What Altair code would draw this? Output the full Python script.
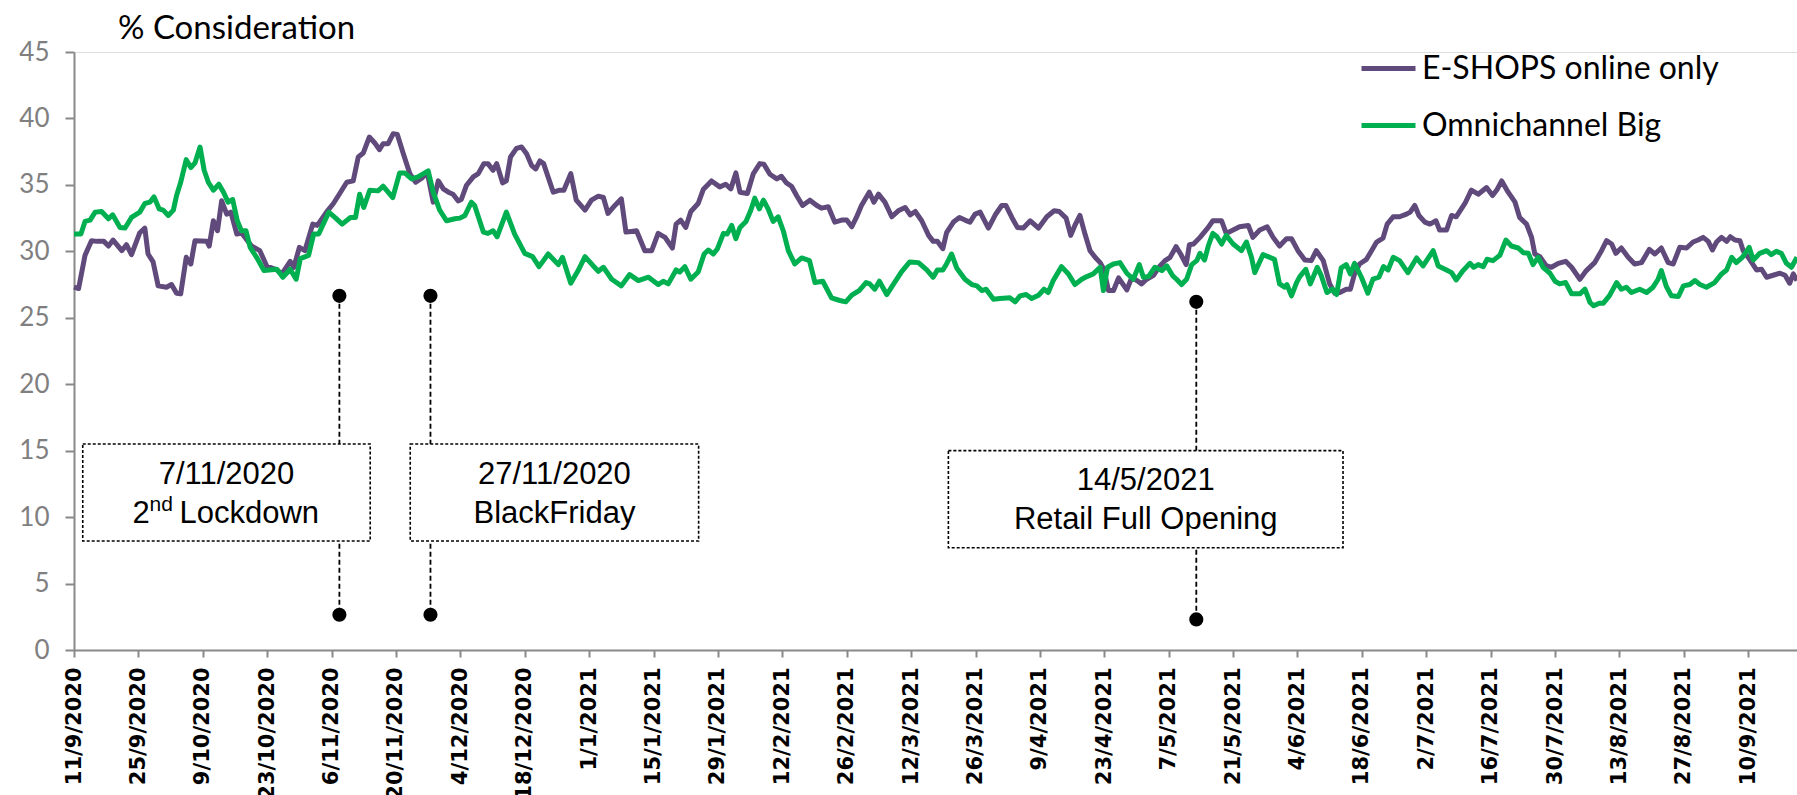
import altair as alt
import pandas as pd

# ---------------- data (day = days since 11/9/2020) ----------------
eshop_day = [0, 1, 2.4, 3.8, 5, 6.5, 7.5, 8.5, 10.4, 11.4, 12.5, 14.3, 15.4, 16.1, 17.2, 18.3, 20.1, 21.2, 22.3, 23.2,
             24.4, 25.4, 26.3, 28.9, 29.4, 30.3, 31.2, 32.1, 33.2, 34.1, 35.4, 36.4, 38.6, 40.4, 41.9, 44.1, 45.2, 47,
             47.8, 49, 50.2, 51.9, 52.9, 54.9, 56.4, 57.5, 59.3, 60.7, 61.8, 62.9, 64.2, 65.4, 66.4, 67.2, 68.3, 69.4,
             70.3, 71.6, 73, 74.3, 75.6, 76.8, 78.1, 79.2, 80.3, 81.4, 82.4, 83.5, 84.2, 85.3, 86.8, 87.9, 89.1, 90,
             91.1, 91.9, 93.2, 94, 94.9, 96.2, 97.3, 98.4, 99.5, 100.4, 101.3, 102.1, 104.2, 105.6, 106.5, 108, 109.2,
             111.1, 112.5, 114, 115.1, 116.1, 117.6, 119, 120, 121.2, 122.3, 124.1, 125.6, 127, 128.5, 130.1, 130.9,
             131.9, 133, 134.1, 135.7, 136.8, 138.6, 140.4, 141.7, 142.8, 143.9, 144.8, 146.4, 147.7, 149.1, 150,
             151.3, 152.8, 153.8, 154.9, 156, 157.1, 158.4, 160, 161.5, 162.5, 164, 165.4, 166.9, 168, 169.1, 170.1,
             171.2, 172.9, 173.9, 174.9, 176.3, 177.8, 179.2, 180.7, 181.8, 182.9, 184.3, 185.8, 186.8, 187.7, 188.9,
             189.7, 191.2, 192.5, 193.7, 194.8, 195.9, 197, 198.8, 200.3, 201.7, 202.6, 203.9, 205.1, 206.4, 207.9,
             209.7, 211.5, 213.1, 214.2, 215.7, 216.7, 217.6, 218.7, 219.8, 220.9, 222, 223.1, 223.9, 224.9, 226,
             227.1, 228, 228.9, 230, 231.1, 232.1, 233.2, 234.7, 236.1, 237.2, 238.3, 239.6, 240.6, 241.8, 242.5,
             243.4, 244.8, 246.6, 247.6, 249.5, 250.5, 252, 253.4, 255.3, 256.3, 257.8, 259.4, 260.7, 262.1, 263.6,
             264.7, 266.1, 267.6, 269, 270.1, 271.6, 273, 274.1, 275.2, 276.6, 277.5, 278.4, 279.5, 281, 282.1, 283.2,
             284.6, 285.5, 286.8, 288.2, 289.7, 290.5, 291.5, 292.4, 293.7, 294.8, 296.1, 296.9, 298.4, 299.5, 300.5,
             302.4, 303.8, 305.3, 307.1, 308.4, 309.4, 310.4, 311.8, 313.3, 314.3, 315.8, 316.9, 317.6, 318.7, 320,
             321.2, 322.7, 324.3, 325.6, 327.4, 328.8, 330.6, 332.1, 333.2, 334.3, 335.2, 336.4, 337.9, 339.3, 340.8,
             342.5, 343.7, 345.1, 346.6, 347.7, 349.1, 350.6, 352, 353.1, 354.2, 355.3, 356.2, 357.1, 358.2, 359.3,
             360.1, 361.1, 362.2, 362.9, 364.3, 365.8, 366.9, 368, 369.4, 370.9, 372, 373, 373.8, 374.6]
eshop_val = [27.3, 27.2, 29.7, 30.8, 30.75, 30.75, 30.4, 30.85, 30.05, 30.5, 29.75, 31.4, 31.75, 29.8, 29.2, 27.4, 27.3,
             27.5, 26.85, 26.8, 29.55, 29.05, 30.8, 30.75, 30.4, 32.3, 31.55, 33.8, 32.8, 32.95, 31.3, 31.4, 30.4, 30.05,
             28.9, 28.6, 28.3, 29.25, 28.8, 30.3, 30.05, 32.05, 31.95, 32.95, 33.6, 34.2, 35.2, 35.3, 37.1, 37.4, 38.6,
             38.15, 37.65, 38.1, 38.1, 38.85, 38.8, 37.35, 35.85, 35.2, 35.5, 35.95, 33.7, 35.3, 34.7, 34.45, 34.3,
             33.8, 33.9, 34.95, 35.6, 35.85, 36.6, 36.6, 36.1, 36.6, 35.15, 35.3, 37.1, 37.75, 37.85, 37.35, 36.45,
             36.2, 36.8, 36.6, 34.45, 34.6, 34.6, 35.85, 33.85, 33.1, 33.85, 34.15, 34.05, 32.85, 33.45, 33.95, 31.45,
             31.5, 31.55, 30.05, 30.05, 31.35, 31.05, 30.25, 32.05, 32.35, 31.8, 33.0, 33.6, 34.65, 35.3, 34.85, 35.05,
             34.7, 35.9, 34.45, 34.35, 35.85, 36.6, 36.55, 35.8, 35.45, 35.65, 35.15, 34.9, 34.2, 33.45, 33.85, 33.45,
             33.25, 33.35, 32.2, 32.35, 32.35, 31.85, 32.55, 33.45, 34.45, 33.7, 34.3, 33.7, 32.6, 33.05, 33.3, 32.75,
             33.0, 32.3, 31.2, 30.75, 30.75, 30.2, 31.4, 32.2, 32.55, 32.35, 32.2, 32.8, 32.95, 31.75, 32.75, 33.45,
             33.45, 32.55, 31.8, 31.75, 32.3, 31.75, 32.6, 33.05, 33.0, 32.5, 31.2, 31.95, 32.7, 31.3, 30.05, 29.55,
             29.15, 28.65, 27.05, 27.05, 28.0, 27.55, 27.1, 28.05, 27.8, 27.55, 27.9, 28.2, 28.9, 29.3, 29.55, 30.35,
             29.8, 29.0, 30.5, 30.55, 31.05, 31.8, 32.3, 32.3, 31.35, 31.6, 31.85, 31.95, 31.05, 31.6, 31.85, 31.05,
             30.4, 30.95, 30.95, 30.05, 29.35, 29.3, 30.05, 29.3, 27.55, 26.85, 26.9, 27.15, 27.15, 28.3, 29.05, 29.4,
             30.05, 30.7, 31.0, 32.05, 32.6, 32.6, 32.8, 32.95, 33.45, 32.7, 32.2, 32.05, 32.3, 31.6, 31.6, 32.7, 32.6,
             33.6, 34.6, 34.3, 34.8, 34.2, 34.65, 35.3, 34.45, 33.7, 32.55, 32.05, 31.05, 29.8, 29.6, 28.95, 28.8,
             29.1, 29.25, 28.8, 27.9, 28.55, 29.15, 30.05, 30.8, 30.55, 29.85, 30.25, 29.55, 29.05, 29.15, 30.15, 29.8,
             30.25, 29.15, 29.05, 30.3, 30.25, 30.7, 30.85, 31.05, 30.75, 30.1, 30.7, 31.05, 30.75, 31.1, 30.85, 30.8,
             30.05, 29.4, 28.6, 28.65, 28.05, 28.2, 28.35, 28.2, 27.6, 28.3, 27.8]

omni_day = [0, 1.5, 2.4, 3.5, 4.6, 6, 7.5, 8.4, 10, 11.1, 12.5, 14.3, 15.4, 16.5, 17.4, 18.5, 19.4, 20.5, 21.6, 22.3,
            23.2, 24.4, 25.4, 26.3, 27.4, 28.3, 29.2, 30.3, 31.5, 32.5, 33.5, 34.5, 35.5, 36.4, 37.4, 38.3, 39.7, 41.3,
            44.1, 45.4, 47, 48.3, 49.2, 51, 52.1, 53.2, 55.4, 56.9, 58.3, 60.1, 61.2, 62.1, 63, 64.3, 66.1, 67.2, 69.3,
            70.8, 71.9, 73.4, 74.8, 77, 78.1, 79.5, 81, 82.8, 83.9, 85, 86.4, 87.1, 89, 90, 91.1, 92, 94, 95.8, 98,
            99.7, 101.1, 103.1, 105.3, 106.2, 108, 109.6, 111.1, 112.9, 114, 115.1, 116.9, 119, 120.8, 122.7, 124.9,
            127, 128.1, 129.2, 130.9, 131.7, 132.8, 134.1, 135.7, 137, 137.9, 139, 139.9, 141.2, 142, 143, 143.9,
            144.8, 146.1, 147.1, 148, 149, 149.9, 150.9, 152, 153.1, 154.2, 155.3, 156.7, 158.2, 159.9, 161.1, 162.8,
            164.7, 166.5, 167.8, 169.1, 170.7, 172.2, 173, 174.1, 175.1, 176.7, 178.1, 179.9, 181.7, 183.6, 185.4,
            186.8, 187.7, 188.9, 189.7, 190.8, 191.9, 193.7, 195.2, 196.3, 197.4, 198.3, 199.9, 201.3, 203.5, 204.6,
            205.7, 207, 208.2, 209.7, 210.9, 211.8, 212.9, 214.7, 216.2, 217.6, 219.1, 220.2, 221.6, 223.1, 223.8,
            224.7, 226, 227.4, 228.9, 230.3, 231.6, 232.5, 233.6, 235, 236.5, 237.6, 238.9, 239.7, 240.8, 241.9, 243,
            244.1, 244.8, 245.8, 246.6, 247.6, 248.5, 249.5, 250.5, 252, 253.8, 254.9, 256, 256.7, 258.5, 259.6, 261,
            262.1, 263.2, 263.7, 264.7, 265.8, 266.5, 267.8, 268.8, 270.3, 271.2, 272.4, 273.6, 274.5, 275.5, 276.6,
            277.5, 278.4, 279.9, 281.3, 282.4, 283.7, 284.7, 285.7, 286.8, 288.2, 290, 291.9, 293.3, 295.5, 296.6,
            298.4, 299.5, 300.5, 302, 303.5, 304.3, 305.3, 306.4, 307.2, 308.5, 310, 311.3, 312.5, 314, 315.1, 316.2,
            317.2, 318.3, 319.4, 320.9, 322, 323, 324.3, 325.6, 327.4, 328.5, 329.6, 330.4, 331.6, 332.5, 333.8,
            335.4, 336.4, 337.5, 338.6, 340.4, 341.9, 343.3, 344.4, 345.1, 346.2, 347.3, 348.8, 349.9, 351.3, 352.4,
            353.5, 354.9, 356.7, 358.2, 359.3, 360.4, 361.4, 362.7, 364.2, 365.1, 366.5, 368, 369, 370.1, 371.2,
            372.3, 373.4, 374.6]
omni_val = [31.3, 31.3, 32.25, 32.35, 32.95, 33.0, 32.45, 32.75, 31.8, 31.75, 32.55, 32.95, 33.6, 33.7, 34.1, 33.2,
            33.1, 32.7, 33.1, 34.2, 35.2, 36.9, 36.3, 36.65, 37.85, 36.1, 35.2, 34.6, 35.05, 34.45, 33.7, 33.9, 32.3,
            31.55, 31.55, 30.3, 29.55, 28.55, 28.65, 28.05, 28.65, 27.9, 29.45, 29.7, 31.3, 31.3, 32.95, 32.5, 32.05,
            32.55, 32.55, 34.3, 33.3, 34.6, 34.55, 34.9, 34.05, 35.9, 35.9, 35.45, 35.6, 36.05, 34.45, 33.1, 32.3,
            32.45, 32.5, 32.7, 33.7, 33.45, 31.45, 31.35, 31.55, 31.1, 32.95, 31.3, 29.85, 29.6, 28.85, 29.8, 29.0,
            29.55, 27.6, 28.55, 29.6, 28.9, 28.5, 28.8, 27.9, 27.4, 28.25, 27.8, 28.05, 27.5, 27.75, 27.55, 28.6,
            28.45, 28.85, 27.9, 28.45, 29.8, 30.1, 29.8, 30.2, 31.35, 31.3, 31.95, 30.95, 31.8, 32.25, 33.05, 34.0,
            33.2, 33.85, 33.2, 32.25, 32.6, 31.55, 30.05, 29.05, 29.5, 29.3, 27.65, 27.75, 26.5, 26.3, 26.2, 26.7,
            27.05, 27.65, 27.55, 27.15, 27.75, 26.75, 27.5, 28.45, 29.2, 29.15, 28.6, 28.05, 28.6, 28.6, 29.05, 29.8,
            28.75, 27.9, 27.5, 27.4, 27.05, 27.15, 26.4, 26.45, 26.5, 26.2, 26.65, 26.75, 26.45, 26.7, 27.15, 26.9,
            27.8, 28.85, 28.3, 27.5, 27.9, 28.1, 28.3, 28.8, 27.05, 28.8, 29.05, 29.15, 28.35, 27.9, 29.0, 28.05,
            28.1, 28.8, 28.55, 28.9, 28.15, 27.9, 27.5, 27.9, 29.0, 29.3, 29.85, 29.35, 30.4, 31.35, 31.1, 30.55,
            31.2, 30.55, 30.05, 30.7, 29.55, 28.4, 29.75, 29.6, 29.4, 27.55, 27.3, 27.5, 26.65, 27.65, 28.1, 28.65,
            27.55, 28.8, 28.15, 26.9, 27.15, 26.75, 28.75, 29.0, 28.3, 29.1, 28.05, 26.85, 27.9, 28.05, 28.85, 28.6,
            29.55, 29.3, 28.4, 29.5, 28.9, 30.05, 28.9, 28.6, 28.4, 27.85, 28.55, 29.1, 28.8, 29.0, 28.85, 29.4, 29.3,
            29.7, 30.85, 30.4, 30.25, 29.9, 29.85, 29.0, 29.55, 28.8, 28.35, 27.75, 27.55, 27.65, 26.8, 26.8, 27.15,
            26.15, 25.9, 26.1, 26.1, 26.65, 27.65, 27.15, 27.3, 26.9, 27.15, 26.9, 27.3, 27.9, 28.55, 27.35, 26.65,
            26.6, 27.4, 27.5, 27.8, 27.5, 27.3, 27.65, 28.3, 28.6, 29.55, 29.15, 29.55, 30.3, 29.35, 29.85, 30.05,
            29.75, 30.0, 29.85, 29.1, 28.8, 29.55]

series_names = ["E-SHOPS online only", "Omnichannel Big"]
series_colors = ["#604A7B", "#00B050"]

tick_days = list(range(0, 365, 14))
y_ticks = list(range(0, 46, 5))

# events
event_day = [57.7, 77.5, 244.0]
event_top = [26.65, 26.65, 26.2]
event_bottom = [2.65, 2.65, 2.3]
box_x1 = [1.9, 73.1, 190.1]
box_x2 = [64.4, 135.8, 275.9]
box_top = [15.5, 15.5, 15.0]
box_bottom = [8.2, 8.2, 7.7]
box_line1 = ["7/11/2020", "27/11/2020", "14/5/2021"]
box_line1_y = [13.2, 13.2, 12.75]
box_line2 = ["", "BlackFriday", "Retail Full Opening"]
box_line2_y = [10.2, 10.2, 9.75]
lockdown_parts = ["2", "nd", "Lockdown"]

title_text = "% Consideration"

# ---------------- frames ----------------
series_df = pd.DataFrame({
    "day": eshop_day + omni_day,
    "value": eshop_val + omni_val,
    "series": [series_names[0]] * len(eshop_day) + [series_names[1]] * len(omni_day),
})
boxes = pd.DataFrame({
    "x1": box_x1, "x2": box_x2, "top": box_top, "bottom": box_bottom,
    "cx": [(a + b) / 2 for a, b in zip(box_x1, box_x2)],
    "l1": box_line1, "l1y": box_line1_y, "l2": box_line2, "l2y": box_line2_y,
})
events = pd.DataFrame({"day": event_day, "top": event_top, "bottom": event_bottom})
dots = pd.DataFrame({"day": event_day + event_day, "value": event_top + event_bottom})

AX = "#898989"
x_scale = alt.Scale(domain=[0, 374.6], nice=False, zero=False)
y_scale = alt.Scale(domain=[0, 45], nice=False, zero=True)

x_axis = alt.Axis(
    values=tick_days,
    labelExpr="timeFormat(datetime(2020, 8, 11 + datum.value), '%-d/%-m/%Y')",
    labelAngle=-90, labelAlign="right", labelBaseline="middle",
    labelFont="DejaVu Sans", labelFontWeight="bold", labelFontSize=21, labelColor="black",
    labelPadding=10, labelFlush=False, labelOverlap=False, labelBound=False,
    tickSize=7, tickWidth=2, tickColor=AX, domainColor=AX, domainWidth=2,
    grid=False, title=None,
)
y_axis = alt.Axis(
    values=y_ticks, labelFont="Lato", labelFontSize=26, labelColor="#7F7F7F",
    labelPadding=16, labelFlush=False, labelOverlap=False,
    tickSize=9, tickWidth=2, tickColor=AX, domainColor=AX, domainWidth=2,
    grid=False, title=None,
)

lines = alt.Chart(series_df).mark_line(strokeWidth=5, strokeJoin="round").encode(
    x=alt.X("day:Q", scale=x_scale, axis=x_axis),
    y=alt.Y("value:Q", scale=y_scale, axis=y_axis),
    color=alt.Color(
        "series:N",
        scale=alt.Scale(domain=series_names, range=series_colors),
        legend=alt.Legend(
            title=None, orient="none", legendX=1285, legendY=-13, padding=0,
            symbolType="stroke", symbolSize=2916, symbolStrokeWidth=5,
            labelFont="Lato", labelFontSize=32, labelColor="black", labelLimit=500,
            labelOffset=4, rowPadding=11,
        ),
    ),
)

rules = alt.Chart(events).mark_rule(color="black", strokeWidth=1.8, strokeDash=[5, 3]).encode(
    x=alt.X("day:Q", scale=x_scale), y=alt.Y("top:Q", scale=y_scale), y2="bottom:Q"
)
rects = alt.Chart(boxes).mark_rect(fill="white", stroke="black", strokeWidth=1.6, strokeDash=[3, 2]).encode(
    x=alt.X("x1:Q", scale=x_scale), x2="x2:Q", y=alt.Y("top:Q", scale=y_scale), y2="bottom:Q"
)
NARROW = "Liberation Sans"
FS = 31
txt1 = alt.Chart(boxes).mark_text(font=NARROW, fontSize=FS, baseline="middle", align="center").encode(
    x=alt.X("cx:Q", scale=x_scale), y=alt.Y("l1y:Q", scale=y_scale), text="l1:N"
)
txt2 = alt.Chart(boxes).mark_text(font=NARROW, fontSize=FS, baseline="middle", align="center").encode(
    x=alt.X("cx:Q", scale=x_scale), y=alt.Y("l2y:Q", scale=y_scale), text="l2:N"
)
first = boxes.iloc[[0]]
lk_a = alt.Chart(first).mark_text(font=NARROW, fontSize=FS, baseline="middle", align="left", dx=-94).encode(
    x=alt.X("cx:Q", scale=x_scale), y=alt.Y("l2y:Q", scale=y_scale), text=alt.value(lockdown_parts[0])
)
lk_b = alt.Chart(first).mark_text(font=NARROW, fontSize=21, baseline="middle", align="left", dx=-77, dy=-9).encode(
    x=alt.X("cx:Q", scale=x_scale), y=alt.Y("l2y:Q", scale=y_scale), text=alt.value(lockdown_parts[1])
)
lk_c = alt.Chart(first).mark_text(font=NARROW, fontSize=FS, baseline="middle", align="left", dx=-47).encode(
    x=alt.X("cx:Q", scale=x_scale), y=alt.Y("l2y:Q", scale=y_scale), text=alt.value(lockdown_parts[2])
)
pts = alt.Chart(dots).mark_point(filled=True, shape="circle", size=200, color="black", opacity=1).encode(
    x=alt.X("day:Q", scale=x_scale), y=alt.Y("value:Q", scale=y_scale)
)
title = alt.Chart(pd.DataFrame({"t": [title_text]})).mark_text(
    font="Lato", fontSize=33, align="left", baseline="alphabetic", color="black"
).encode(x=alt.value(44), y=alt.value(-13), text="t:N")

chart = alt.layer(lines, rules, rects, txt1, txt2, lk_a, lk_b, lk_c, pts, title).properties(
    width=1723, height=598,
    autosize=alt.AutoSizeParams(type="none"),
    padding={"left": 74, "top": 52, "right": 0, "bottom": 145},
).configure_view(stroke=None).configure(background="white")

chart.save("out.html", embed_options={"renderer": "svg", "actions": False})
